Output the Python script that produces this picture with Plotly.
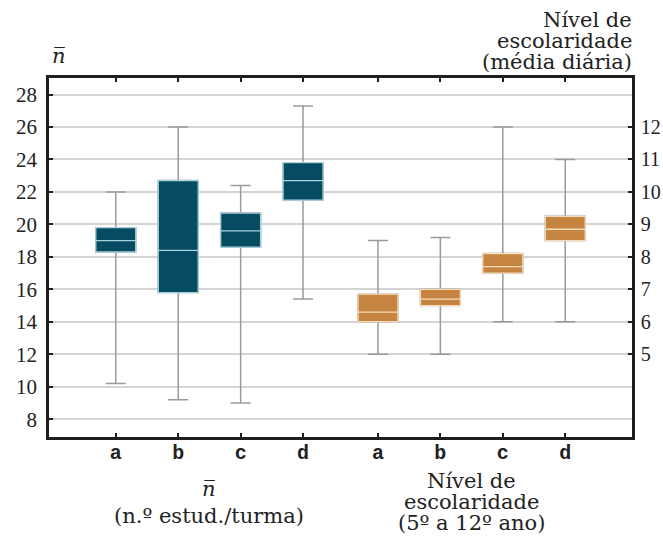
import plotly.graph_objects as go

# Categories and x positions (two groups of four, with a wider gap between groups)
categories = ["a", "b", "c", "d", "a", "b", "c", "d"]
positions = [0, 1, 2, 3, 4.2, 5.2, 6.2, 7.2]

# Group 1: n̄ (n.º estud./turma) -- left axis
n_low = [10.2, 9.2, 9.0, 15.4]
n_q1 = [18.3, 15.8, 18.6, 21.5]
n_med = [19.0, 18.4, 19.6, 22.7]
n_q3 = [19.8, 22.7, 20.7, 23.8]
n_high = [22.0, 26.0, 22.4, 27.3]

# Group 2: Nível de escolaridade (média diária) -- right axis
e_low = [5.0, 5.0, 6.0, 6.0]
e_q1 = [6.0, 6.5, 7.5, 8.5]
e_med = [6.3, 6.7, 7.7, 8.85]
e_q3 = [6.85, 7.0, 8.1, 9.25]
e_high = [8.5, 8.6, 12.0, 11.0]

left_ticks = list(range(8, 30, 2))
right_ticks = list(range(5, 13))

TEAL = "#054B62"
ORANGE = "#C5843F"
WHISKER = "#9a9a9a"
AXIS = "#1e1e1e"
SERIF = "DejaVu Serif"
NUM_FONT = "Liberation Serif"

fig = go.Figure()


def add_box(x, low, q1, med, q3, high, fill, edge, yaxis):
    # whiskers and caps
    fig.add_trace(go.Box(
        x=[x], q1=[q1], median=[med], q3=[q3],
        lowerfence=[low], upperfence=[high],
        width=0.64, whiskerwidth=0.5,
        fillcolor="rgba(0,0,0,0)",
        line=dict(color=WHISKER, width=1.5),
        yaxis=yaxis, showlegend=False, hoverinfo="skip",
    ))
    # filled box with light median line
    fig.add_trace(go.Box(
        x=[x], q1=[q1], median=[med], q3=[q3],
        lowerfence=[q1], upperfence=[q3],
        width=0.64, whiskerwidth=0,
        fillcolor=fill,
        line=dict(color=edge, width=1.3),
        yaxis=yaxis, showlegend=False, hoverinfo="skip",
    ))


for i in range(4):
    add_box(positions[i], n_low[i], n_q1[i], n_med[i], n_q3[i], n_high[i],
            TEAL, "#a9d2de", "y")
for i in range(4):
    add_box(positions[4 + i], e_low[i], e_q1[i], e_med[i], e_q3[i], e_high[i],
            ORANGE, "#f6dcbc", "y2")

y_lo, y_hi = 6.9, 29.02

fig.update_layout(
    width=663, height=537,
    margin=dict(l=49, r=31, t=78, b=100, autoexpand=False),
    paper_bgcolor="white", plot_bgcolor="white",
    boxmode="overlay",
    font=dict(family=SERIF, color="#222"),
    xaxis=dict(
        range=[-1.07, 8.27],
        tickvals=positions, ticktext=categories,
        tickfont=dict(family="Liberation Mono", size=20, weight="bold", color="#222"),
        ticks="inside", ticklen=4, tickwidth=2, tickcolor=AXIS,
        showline=True, linecolor=AXIS, linewidth=2.5, mirror="ticks",
        showgrid=False, zeroline=False, ticklabelstandoff=-5,
        automargin=False,
    ),
    yaxis=dict(
        range=[y_lo, y_hi],
        tickvals=left_ticks,
        tickfont=dict(family=NUM_FONT, size=21, color="#222"),
        ticks="inside", ticklen=4, tickwidth=2, tickcolor=AXIS,
        showline=True, linecolor=AXIS, linewidth=2.5,
        showgrid=True, gridcolor="#d4d4d4", gridwidth=1.5,
        zeroline=False, ticklabelstandoff=5, automargin=False,
    ),
    yaxis2=dict(
        range=[y_lo / 2 - 1, y_hi / 2 - 1],
        tickvals=right_ticks,
        tickfont=dict(family=NUM_FONT, size=20, color="#222"),
        overlaying="y", side="right",
        ticks="inside", ticklen=4, tickwidth=2, tickcolor=AXIS,
        showline=True, linecolor=AXIS, linewidth=2.5,
        showgrid=False, zeroline=False, ticklabelstandoff=2,
        automargin=False,
    ),
)

PLOT_TOP, PLOT_BOTTOM = 78.0, 437.0


def py(ypix):
    return (PLOT_BOTTOM - ypix) / (PLOT_BOTTOM - PLOT_TOP)


def label(text, x, ypix, xref="x", xanchor="center", size=21):
    fig.add_annotation(
        text=text, x=x, y=py(ypix), xref=xref, yref="paper",
        xanchor=xanchor, yanchor="middle", showarrow=False,
        font=dict(family=SERIF, size=size, color="#222"),
    )


# axis titles
label("<i>n\u0305</i>", 0.002, 56, xref="paper", xanchor="left")
for text, yp in [("Nível de", 20), ("escolaridade", 41), ("(média diária)", 62)]:
    label(text, 1.004, yp, xref="paper", xanchor="right")

label("<i>n\u0305</i>", 1.5, 489)
label("(n.º estud./turma)", 1.5, 516)
for text, yp in [("Nível de", 481), ("escolaridade", 502), ("(5º a 12º ano)", 523)]:
    label(text, 5.7, yp)

fig.write_html("out.html")
